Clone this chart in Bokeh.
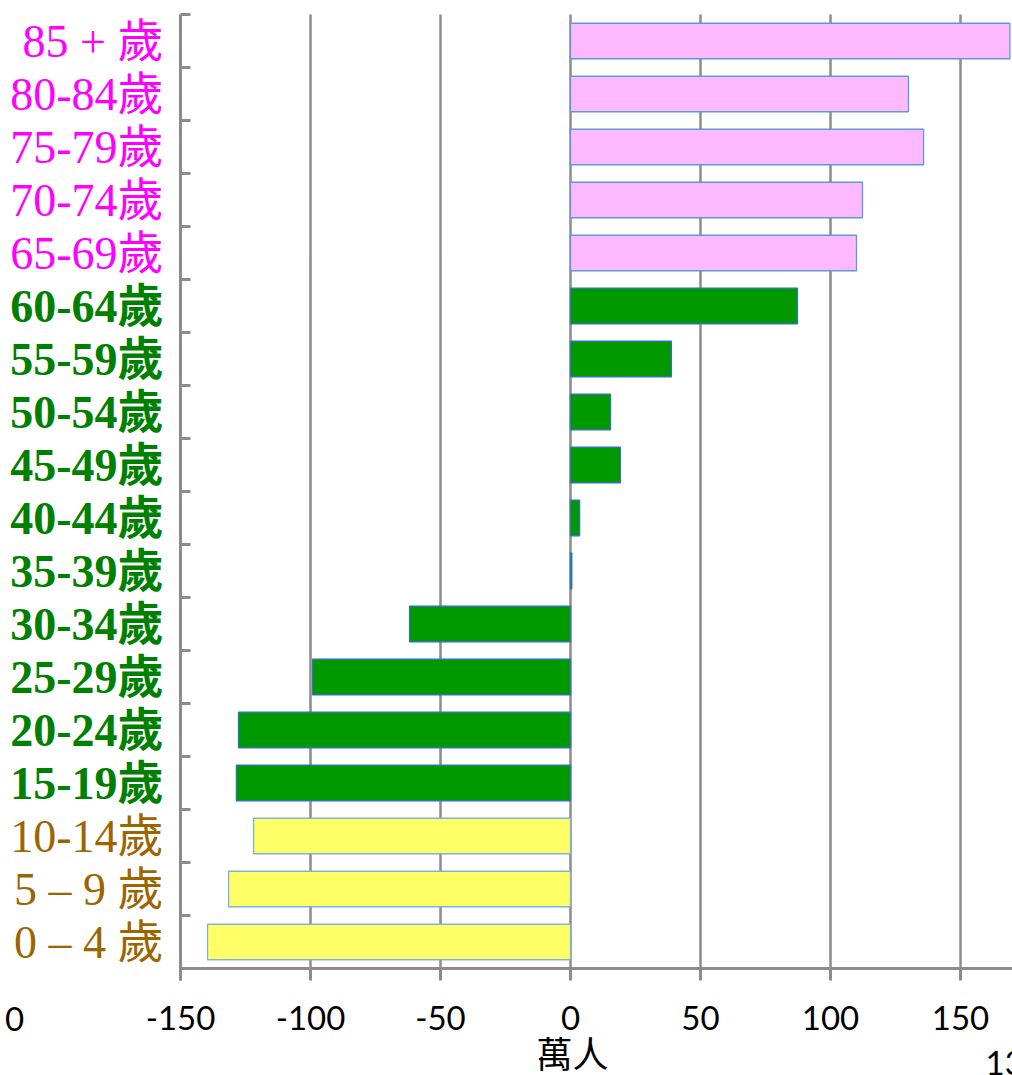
from bokeh.plotting import figure
from bokeh.models import ColumnDataSource, Range1d, FixedTicker, Grid
from bokeh.core.properties import value
from bokeh.embed import file_html
from bokeh.resources import INLINE

# ---- data (bottom to top) ----
age_groups = ["0 – 4 歲", "5 – 9 歲", "10-14歲", "15-19歲", "20-24歲", "25-29歲",
              "30-34歲", "35-39歲", "40-44歲", "45-49歲", "50-54歲", "55-59歲",
              "60-64歲", "65-69歲", "70-74歲", "75-79歲", "80-84歲", "85 + 歲"]
change_10k = [-139.6, -131.5, -121.9, -128.5, -127.7, -99.2,
              -61.9, 0.5, 3.5, 19.2, 15.4, 38.8,
              87.3, 110.0, 112.3, 135.8, 130.0, 169.0]
group = ["young", "young", "young",
         "working", "working", "working", "working", "working",
         "working", "working", "working", "working", "working",
         "old", "old", "old", "old", "old"]
x_tick_values = [-150, -100, -50, 0, 50, 100, 150]
x_tick_labels = ["-150", "-100", "-50", "0", "50", "100", "150"]
x_min, x_max = -150, 170
x_unit = "萬人"

SERIF = "'Liberation Serif', 'Noto Sans CJK TC', serif"
GRAY = "#8C8C8C"

fill_map = {"young": "#FFFF66", "working": "#009900", "old": "#FFB9FF"}
line_map = {"young": "#7FB2DA", "working": "#2E75B6", "old": "#5B9BD5"}
text_map = {"young": "#9C6500", "working": "#008000", "old": "#FF00FF"}
style_map = {"young": "normal", "working": "bold", "old": "normal"}

n = len(age_groups)
ypos = list(range(n))
src = ColumnDataSource(dict(
    y=ypos, right=change_10k, label=age_groups,
    fill=[fill_map[g] for g in group],
    line=[line_map[g] for g in group],
    tcolor=[text_map[g] for g in group],
    tstyle=[style_map[g] for g in group],
    lx=[x_min] * n,
))

# canvas geometry: whole canvas is the frame, axes placed at fixed locations
W, H = 1012, 1075
px_left, px_zero = 180.0, 570.0          # pixel of x_min and of 0
sx = (px_zero - px_left) / (0 - x_min)   # px per unit
row = 53.0                               # px per category
px_top = 14.0                            # pixel of top boundary
y_top = n - 0.5 + px_top / row
y_bot = -0.5 - (H - (px_top + n * row)) / row

p = figure(width=W, height=H, output_backend="svg", toolbar_location=None,
           x_range=Range1d(x_min - px_left / sx, x_min + (W - px_left) / sx),
           y_range=Range1d(y_bot, y_top),
           min_border_left=0, min_border_right=0, min_border_top=0,
           min_border_bottom=0)
p.outline_line_color = None
p.background_fill_color = "white"
p.xgrid.grid_line_color = None
p.ygrid.grid_line_color = None

# vertical grid lines, limited to the plotting area
g = Grid(dimension=0, ticker=FixedTicker(ticks=x_tick_values),
         grid_line_color=GRAY, grid_line_width=2.5)
if "cross_bounds" in Grid.properties():
    g.cross_bounds = (-0.5, n - 0.5)
    p.add_layout(g)
else:
    p.segment(x0=x_tick_values, x1=x_tick_values, y0=-0.5, y1=n - 0.5,
              line_color=GRAY, line_width=2.5)

p.hbar(y="y", left=0, right="right", height=0.67, source=src,
       fill_color="fill", line_color="line", line_width=1.3)

# x axis
xa = p.xaxis[0]
xa.fixed_location = -0.5
xa.bounds = (x_min, x_max)
xa.ticker = FixedTicker(ticks=x_tick_values)
xa.major_label_overrides = {v: s for v, s in zip(x_tick_values, x_tick_labels)}
xa.axis_line_color = GRAY
xa.axis_line_width = 3
xa.major_tick_line_color = GRAY
xa.major_tick_line_width = 3
xa.major_tick_in = 0
xa.major_tick_out = 12
xa.minor_tick_line_color = None
xa.major_label_text_font = "Lato"
xa.major_label_text_font_size = "33px"
xa.major_label_text_color = "black"
xa.major_label_standoff = 25

# y axis: ticks between categories, pointing inward
ya = p.yaxis[0]
ya.fixed_location = x_min
bounds = [i - 0.5 for i in range(n + 1)]
ya.bounds = (-0.5 - 12 / row, n - 0.5)
ya.ticker = FixedTicker(ticks=bounds)
ya.major_label_overrides = {b: "" for b in bounds}
ya.axis_line_color = GRAY
ya.axis_line_width = 3
ya.major_tick_line_color = GRAY
ya.major_tick_line_width = 3
ya.major_tick_in = 10
ya.major_tick_out = 0
ya.minor_tick_line_color = None

# category labels
p.text(x="lx", y="y", text="label", source=src, x_offset=-17,
       text_align="right", text_baseline="middle",
       text_color="tcolor", text_font_style="tstyle",
       text_font=value(SERIF), text_font_size="46px")

# unit label under the axis
p.text(x=[0], y=[-0.5 - 87 / row], text=[x_unit], x_offset=2,
       text_align="center", text_baseline="middle",
       text_font=value(SERIF), text_font_size="36px", text_color="black")
# cropped neighbouring texts visible at the edges of the reference
p.text(x=[x_min - 166 / sx], y=[-0.5 - 50 / row], text=["0"],
       text_align="center", text_baseline="middle",
       text_font=value("Lato"), text_font_size="33px", text_color="black")
p.text(x=[(985 - px_zero) / sx], y=[-0.5 - 94 / row], text=["13"],
       text_align="left", text_baseline="middle",
       text_font=value("Lato"), text_font_size="33px", text_color="black")

open("out.html", "w").write(file_html(p, INLINE))
